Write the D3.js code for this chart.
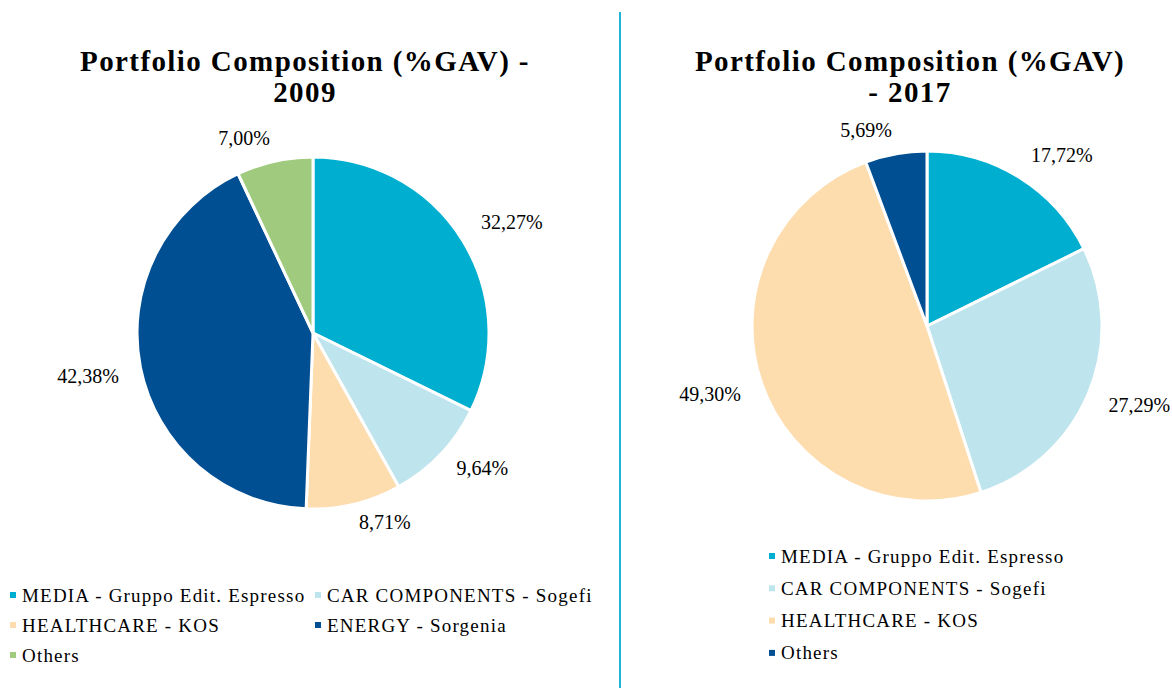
<!DOCTYPE html>
<html>
<head>
<meta charset="utf-8">
<script src="https://cdn.jsdelivr.net/npm/d3@7"></script>
<style>
  body { margin: 0; background: #fff; }
  svg text { font-family: "Liberation Serif", "Times New Roman", serif; fill: #000; }
</style>
</head>
<body>
<div id="chart"></div>
<script>
const W = 1172, H = 688

// data
const categories2009 = ['MEDIA - Gruppo Edit. Espresso', 'CAR COMPONENTS - Sogefi', 'HEALTHCARE - KOS', 'ENERGY - Sorgenia', 'Others']
const values2009 = [32.27, 9.64, 8.71, 42.38, 7.00]
const colors2009 = ['#00afd0', '#bee4ee', '#fddcae', '#004f93', '#a0cb7f']

const categories2017 = ['MEDIA - Gruppo Edit. Espresso', 'CAR COMPONENTS - Sogefi', 'HEALTHCARE - KOS', 'Others']
const values2017 = [17.72, 27.29, 49.30, 5.69]
const colors2017 = ['#00afd0', '#bee4ee', '#fddcae', '#004f93']

const titles2009 = ['Portfolio Composition (%GAV) -', '2009']
const titles2017 = ['Portfolio Composition (%GAV)', '- 2017']

const fmt = v => v.toFixed(2).replace('.', ',') + '%'

const svg = d3.select('#chart')
  .append('svg')
  .attr('width', W)
  .attr('height', H)

// divider
svg.append('line')
  .attr('x1', 620).attr('x2', 620)
  .attr('y1', 12).attr('y2', H)
  .attr('stroke', '#1fb5d8')
  .attr('stroke-width', 2)

function drawTitle (lines, cx) {
  svg.append('g').selectAll('text')
    .data(lines)
    .enter()
    .append('text')
    .attr('x', cx)
    .attr('y', (d, i) => 71 + i * 31)
    .attr('text-anchor', 'middle')
    .attr('font-size', 29)
    .attr('font-weight', 'bold')
    .attr('letter-spacing', 1.4)
    .text(d => d)
}

function drawPie (params) {
  const { cats, values, colors, cx, cy, r } = params
  const data = cats.map((c, i) => ({ cat: c, value: values[i], color: colors[i] }))
  const pie = d3.pie().sort(null).value(d => d.value)
  const arc = d3.arc().innerRadius(0).outerRadius(r)
  const arcs = pie(data)

  const g = svg.append('g').attr('transform', `translate(${cx},${cy})`)
  g.selectAll('path')
    .data(arcs)
    .enter()
    .append('path')
    .attr('d', arc)
    .attr('fill', d => d.data.color)
    .attr('stroke', '#fff')
    .attr('stroke-width', 3)
    .attr('stroke-linejoin', 'round')

  // outside-end labels, box corner touching the slice's mid ray
  const labels = g.selectAll('text.lbl')
    .data(arcs)
    .enter()
    .append('text')
    .attr('class', 'lbl')
    .attr('font-size', 20)
    .attr('text-anchor', 'middle')
    .attr('dominant-baseline', 'central')
    .text(d => fmt(d.data.value))

  labels.each(function (d) {
    const a = (d.startAngle + d.endAngle) / 2
    const s = Math.sin(a), c = Math.cos(a)
    const hw = this.getComputedTextLength() / 2
    const hh = 9
    const x = (r + 22) * s + hw * Math.sign(s)
    const y = -(r + 12) * c - hh * Math.sign(c) - 3
    d3.select(this).attr('x', x).attr('y', y)
  })
}

function drawLegend (params) {
  const { cats, colors, x0, y0, colW, rowH, cols } = params
  const items = svg.append('g').selectAll('g')
    .data(cats)
    .enter()
    .append('g')
    .attr('transform', (d, i) => `translate(${x0 + (i % cols) * colW},${y0 + Math.floor(i / cols) * rowH})`)
  items.append('rect')
    .attr('x', 0).attr('y', -3)
    .attr('width', 6).attr('height', 6)
    .attr('fill', (d, i) => colors[i])
  items.append('text')
    .attr('x', 12)
    .attr('y', 0)
    .attr('dominant-baseline', 'central')
    .attr('font-size', 19)
    .attr('letter-spacing', 1.2)
    .text(d => d)
}

drawTitle(titles2009, 305)
drawTitle(titles2017, 910)

drawPie({ cats: categories2009, values: values2009, colors: colors2009, cx: 313, cy: 333, r: 176 })
drawPie({ cats: categories2017, values: values2017, colors: colors2017, cx: 927, cy: 326, r: 175 })

drawLegend({ cats: categories2009, colors: colors2009, x0: 10, y0: 595, colW: 305, rowH: 30, cols: 2 })
drawLegend({ cats: categories2017, colors: colors2017, x0: 769, y0: 556, colW: 0, rowH: 32.3, cols: 1 })
</script>
</body>
</html>
